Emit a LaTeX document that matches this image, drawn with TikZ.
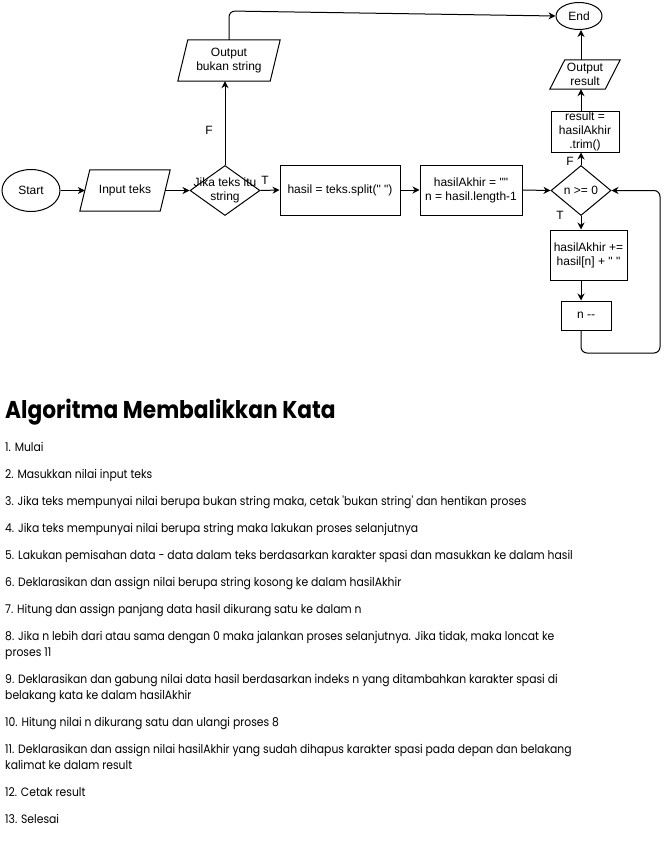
\documentclass[tikz,border=0pt]{standalone}
\usepackage{fontspec}
\usepackage{graphicx}
\setmainfont{Liberation Sans}
\newfontfamily\fcfont{Liberation Sans}
\newfontfamily\txfont{Poppins}
\usetikzlibrary{shapes.geometric,arrows.meta}
\newcommand\parashape[2]{\draw[line width=1pt] ([xshift=#2]#1.north west) -- ([xshift=#2]#1.north east) -- ([xshift=-#2]#1.south east) -- ([xshift=-#2]#1.south west) -- cycle;}
\newcommand\vst[1]{\scalebox{1}[1.12]{#1}}
\begin{document}
\begin{tikzpicture}[x=1pt,y=-1pt,
  fc/.style={font=\fcfont\fontsize{12}{14}\selectfont, align=center, inner sep=0pt},
  box/.style={fc, draw, line width=1pt, rectangle},
  ell/.style={fc, draw, line width=1pt, ellipse},
  dia/.style={draw, line width=1pt, diamond, inner sep=0pt},
  arr/.style={line width=1pt, -{Stealth[length=7pt,width=7pt]}},
  txt/.style={font=\txfont\fontsize{10.8}{13}\selectfont, anchor=base west, inner sep=0pt},
  ttl/.style={font=\txfont\bfseries\fontsize{21.7}{26}\selectfont, anchor=base west, inner sep=0pt}]
\useasboundingbox (0,0) rectangle (669,851);
\fill[white] (0,0) rectangle (669,851);

% flowchart nodes
\node[ell, minimum width=58, minimum height=42] (start) at (31,190.5) {Start};
\node[fc, minimum width=80, minimum height=41] (input) at (125,190.5) {Input teks};
\parashape{input}{5}
\node[dia, minimum width=70, minimum height=50, label={[fc]center:Jika teks itu\\string}] (d1) at (225,190.5) {};
\node[fc, minimum width=92, minimum height=41] (out1) at (229,60.5) {Output\\bukan string};
\parashape{out1}{5}
\node[box, minimum width=120, minimum height=50] (b1) at (340,190) {hasil = teks.split(" ")};
\node[box, minimum width=102, minimum height=50] (b2) at (471,190) {hasilAkhir = ""\\n = hasil.length-1};
\node[dia, minimum width=60, minimum height=50, label={[fc]center:n >= 0}] (d2) at (581,190.5) {};
\node[box, minimum width=68, minimum height=41] (res) at (585,131.5) {result =\\hasilAkhir\\.trim()};
\node[fc, minimum width=55, minimum height=29] (out2) at (585,74.5) {Output\\result};
\parashape{out2}{7.5}
\node[ell, minimum width=46, minimum height=27] (end) at (579,16) {End};
\node[box, minimum width=77, minimum height=50] (body) at (588.5,255) {hasilAkhir +=\\hasil[n] + " "};
\node[box, minimum width=50, minimum height=29] (dec) at (586,315.5) {n -{}-};

% edge labels
\node[fc] (lT1) at (265,180) {T};
\node[fc] (lF1) at (209,130) {F};
\node[fc] (lF2) at (570,161) {F};
\node[fc] (lT2) at (560,215) {T};

% connectors
\coordinate (c1) at (229,11);
\coordinate (lp) at (660,353);
\draw[arr] (start.east) -- (input.west);
\draw[arr] (input.east) -- (d1.west);
\draw[arr] (d1.north) -- (d1.north |- out1.south);
\draw[arr, rounded corners=6] (out1.north) -- (c1) -- (end.west);
\draw[arr] (d1.east) -- (b1.west);
\draw[arr] (b1.east) -- (b2.west);
\draw[arr] (b2.east) -- (d2.west);
\draw[arr] (d2.north) -- (d2.north |- res.south);
\draw[arr] (res.north -| d2.north) -- (out2.south -| d2.north);
\draw[arr] (out2.north -| d2.north) -- (end.south -| d2.north);
\draw[arr] (d2.south) -- (d2.south |- body.north);
\draw[arr] (body.south -| d2.south) -- (dec.north -| d2.south);
\draw[arr, rounded corners=6] (dec.south -| d2.south) |- (lp) |- (d2.east);

% text
\node[ttl] (title) at (5,418) {\vst{Algoritma Membalikkan Kata}};
\node[txt] (t1) at (5,451) {\vst{1. Mulai}};
\node[txt] (t2) at (5,478) {\vst{2. Masukkan nilai input teks}};
\node[txt] (t3) at (5,505) {\vst{3. Jika teks mempunyai nilai berupa bukan string maka, cetak 'bukan string' dan hentikan proses}};
\node[txt] (t4) at (5,532) {\vst{4. Jika teks mempunyai nilai berupa string maka lakukan proses selanjutnya}};
\node[txt] (t5) at (5,559) {\vst{5. Lakukan pemisahan data - data dalam teks berdasarkan karakter spasi dan masukkan ke dalam hasil}};
\node[txt] (t6) at (5,586) {\vst{6. Deklarasikan dan assign nilai berupa string kosong ke dalam hasilAkhir}};
\node[txt] (t7) at (5,613) {\vst{7. Hitung dan assign panjang data hasil dikurang satu ke dalam n}};
\node[txt] (t8) at (5,640) {\vst{8. Jika n lebih dari atau sama dengan 0 maka jalankan proses selanjutnya. Jika tidak, maka loncat ke}};
\node[txt] (t8b) at (5,656) {\vst{proses 11}};
\node[txt] (t9) at (5,683) {\vst{9. Deklarasikan dan gabung nilai data hasil berdasarkan indeks n yang ditambahkan karakter spasi di}};
\node[txt] (t9b) at (5,699) {\vst{belakang kata ke dalam hasilAkhir}};
\node[txt] (t10) at (5,726) {\vst{10. Hitung nilai n dikurang satu dan ulangi proses 8}};
\node[txt] (t11) at (5,753) {\vst{11. Deklarasikan dan assign nilai hasilAkhir yang sudah dihapus karakter spasi pada depan dan belakang}};
\node[txt] (t11b) at (5,769) {\vst{kalimat ke dalam result}};
\node[txt] (t12) at (5,796) {\vst{12. Cetak result}};
\node[txt] (t13) at (5,823) {\vst{13. Selesai}};
\end{tikzpicture}
\end{document}
